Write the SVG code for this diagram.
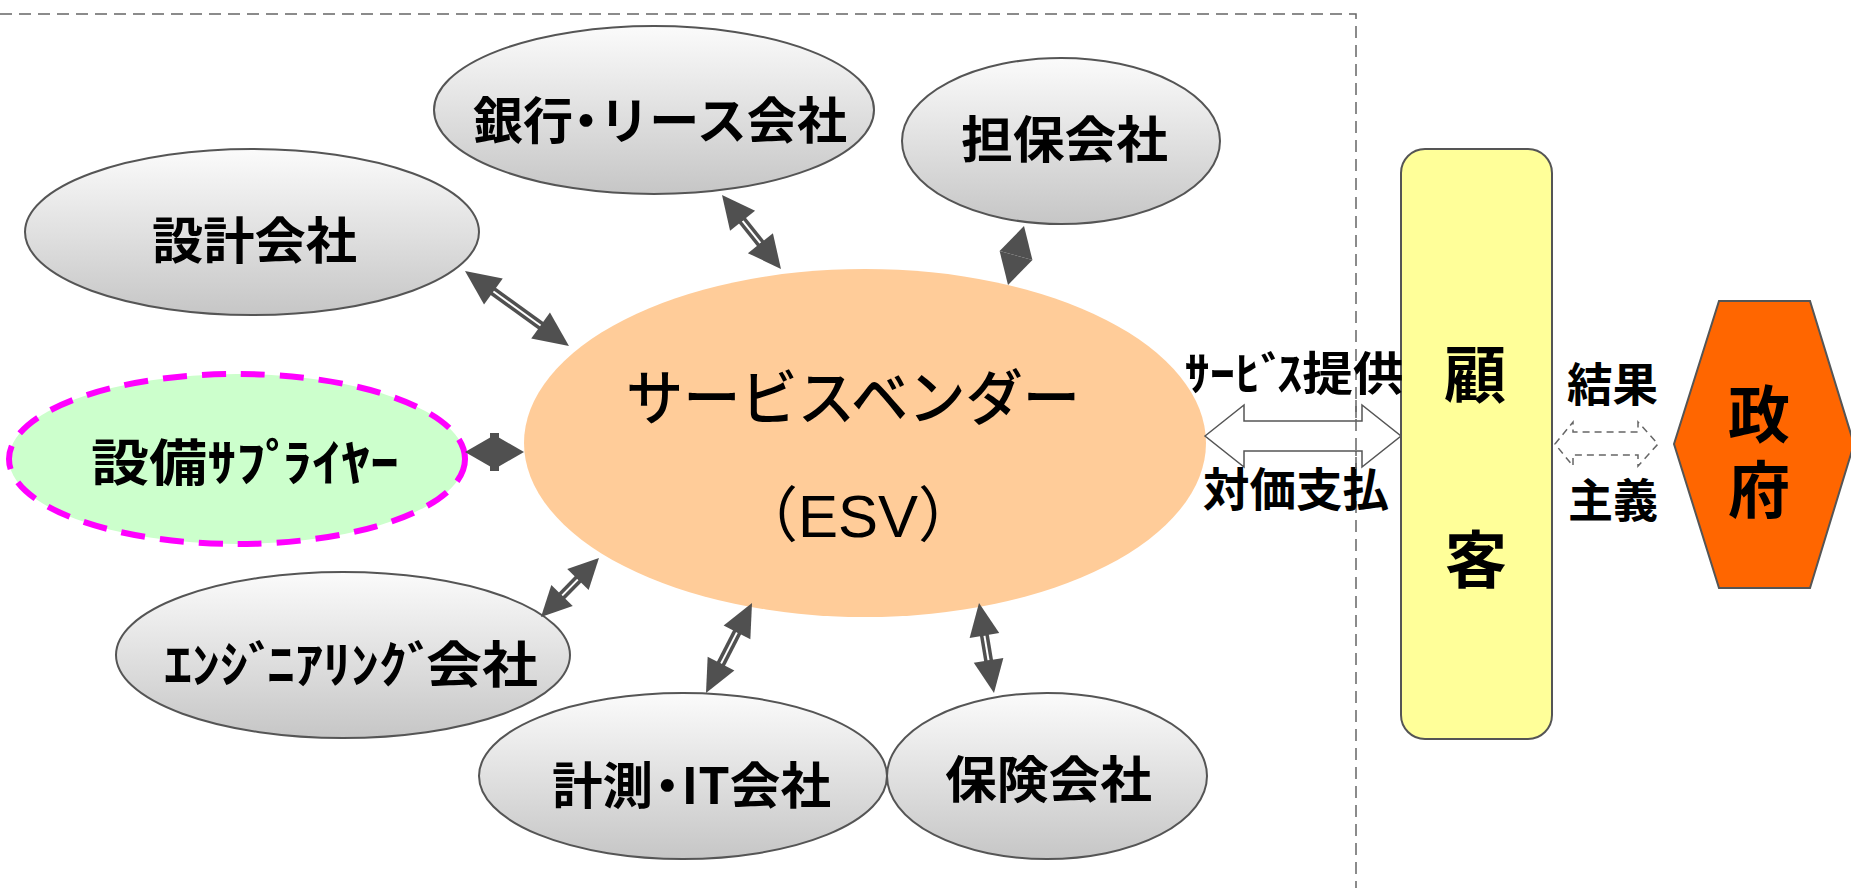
<svg xmlns="http://www.w3.org/2000/svg" width="1851" height="888" viewBox="0 0 1851 888">
<defs>
<linearGradient id="gray" x1="0" y1="0" x2="0" y2="1">
<stop offset="0" stop-color="#FBFBFB"/>
<stop offset="1" stop-color="#C6C6C6"/>
</linearGradient>
<style>
.node { fill: url(#gray); stroke: #555555; stroke-width: 2; }
.lbl { font-family: "Noto Sans CJK JP", sans-serif; font-weight: bold; font-size: 50px; fill: #000; text-anchor: middle; }
.big { font-family: "Noto Sans CJK JP", sans-serif; font-weight: bold; font-size: 62px; fill: #000; text-anchor: middle; }
.side { font-family: "Noto Sans CJK JP", sans-serif; font-weight: bold; font-size: 46px; fill: #000; text-anchor: middle; }
.shaft { stroke: #505050; stroke-width: 9; fill: none; }
.gap { stroke: #FFFFFF; stroke-width: 2; fill: none; }
.head { fill: #505050; }
.frame { fill: none; stroke: #666666; stroke-width: 1.5; stroke-dasharray: 12 7; }
</style>
</defs>
<rect x="0" y="0" width="1851" height="888" fill="#FFFFFF"/>

<g id="frame">
<polyline class="frame" points="0,14 1356,14 1356,888"/>
</g>

<g id="node-bank">
<ellipse class="node" cx="654" cy="110" rx="220" ry="84"/>
<text class="lbl" x="660" y="138.5" dx="0 0 -12 -12" textLength="374" lengthAdjust="spacingAndGlyphs">銀行・リース会社</text>
</g>
<g id="node-collateral">
<ellipse class="node" cx="1061" cy="141" rx="159" ry="83"/>
<text class="lbl" x="1064.5" y="157.5" textLength="207" lengthAdjust="spacingAndGlyphs">担保会社</text>
</g>
<g id="node-design">
<ellipse class="node" cx="252" cy="232" rx="227" ry="83"/>
<text class="lbl" x="254.5" y="258.5" textLength="205" lengthAdjust="spacingAndGlyphs">設計会社</text>
</g>
<g id="node-supplier">
<ellipse cx="237" cy="459" rx="228" ry="85" fill="#CCFFCC" stroke="#FF00FF" stroke-width="6" stroke-dasharray="24 15"/>
<text class="lbl" x="245" y="480.5" dx="0 0 0 0 -6 -4" textLength="308" lengthAdjust="spacingAndGlyphs">設備ｻﾌﾟﾗｲﾔｰ</text>
</g>
<g id="node-engineering">
<ellipse class="node" cx="343" cy="655" rx="227" ry="83"/>
<text class="lbl" x="351" y="682.5" dx="0 0 0 -5 -3 0 0 0 0 -5 -3" textLength="374" lengthAdjust="spacingAndGlyphs">ｴﾝｼﾞﾆｱﾘﾝｸﾞ会社</text>
</g>
<g id="node-measure">
<ellipse class="node" cx="683" cy="776" rx="204" ry="83"/>
<text class="lbl" x="691.5" y="803.5" dx="0 0 -11 -11" textLength="279" lengthAdjust="spacingAndGlyphs">計測・IT会社</text>
</g>
<g id="node-insurance">
<ellipse class="node" cx="1047" cy="776" rx="160" ry="83"/>
<text class="lbl" x="1048.5" y="797.5" textLength="207" lengthAdjust="spacingAndGlyphs">保険会社</text>
</g>
<g id="node-esv">
<ellipse cx="865" cy="443" rx="341" ry="174" fill="#FFCC99"/>
<text x="853" y="420" font-family="Noto Sans CJK JP, sans-serif" font-weight="500" font-size="60" text-anchor="middle" textLength="454" lengthAdjust="spacingAndGlyphs">サービスベンダー</text>
<text x="858" y="537" font-family="Liberation Sans, Noto Sans CJK JP, sans-serif" font-size="60" text-anchor="middle">（ESV）</text>
</g>
<g id="node-customer">
<rect x="1401" y="149" width="151" height="590" rx="24" fill="#FFFF99" stroke="#555555" stroke-width="2"/>
<text class="big" x="1475" y="398">顧</text>
<text class="big" x="1476" y="583">客</text>
</g>
<g id="node-government">
<polygon points="1674,444 1719,301 1810,301 1854,444 1810,588 1719,588" fill="#FF6600" stroke="#555555" stroke-width="2"/>
<text class="big" x="1759" y="438">政</text>
<text class="big" x="1759" y="513">府</text>
</g>

<g id="connectors">
<g transform="translate(465,271) rotate(35.8)">
<line class="shaft" x1="31" y1="0" x2="97.2" y2="0"/>
<line class="gap" x1="33" y1="0" x2="95.2" y2="0"/>
<polygon class="head" points="0,0 35,-16 35,16"/>
<polygon class="head" points="128.2,0 93.2,-16 93.2,16"/>
</g>
<g transform="translate(722,195) rotate(51.43)">
<line class="shaft" x1="31" y1="0" x2="63.6" y2="0"/>
<line class="gap" x1="33" y1="0" x2="61.6" y2="0"/>
<polygon class="head" points="0,0 33,-16 33,16"/>
<polygon class="head" points="94.6,0 61.6,-16 61.6,16"/>
</g>
<g transform="translate(1024,226) rotate(105.17)">
<polygon class="head" points="0,0 30.5,-17 30.5,17"/>
<polygon class="head" points="61.1,0 30.5,-17 30.5,17"/>
</g>
<g transform="translate(465,452)">
<polygon class="head" points="0,0 29.5,-17 29.5,17"/>
<polygon class="head" points="59,0 29.5,-17 29.5,17"/>
<rect class="head" x="25" y="-19" width="9" height="38"/>
</g>
<g transform="translate(541,617) rotate(-45.49)">
<line class="shaft" x1="28" y1="0" x2="54.7" y2="0"/>
<line class="gap" x1="30" y1="0" x2="52.7" y2="0"/>
<polygon class="head" points="0,0 30,-15 30,15"/>
<polygon class="head" points="82.7,0 52.7,-15 52.7,15"/>
</g>
<g transform="translate(706,693) rotate(-62.93)">
<line class="shaft" x1="31" y1="0" x2="70.1" y2="0"/>
<line class="gap" x1="33" y1="0" x2="68.1" y2="0"/>
<polygon class="head" points="0,0 33,-15 33,15"/>
<polygon class="head" points="101.1,0 68.1,-15 68.1,15"/>
</g>
<g transform="translate(979,603) rotate(80.54)">
<line class="shaft" x1="31" y1="0" x2="60.2" y2="0"/>
<line class="gap" x1="33" y1="0" x2="58.2" y2="0"/>
<polygon class="head" points="0,0 33,-15 33,15"/>
<polygon class="head" points="91.2,0 58.2,-15 58.2,15"/>
</g>
<polygon points="1205,436 1244,405 1244,421 1362,421 1362,405 1401,436 1362,467 1362,451 1244,451 1244,467" fill="#FFFFFF" stroke="#555555" stroke-width="1.5"/>
<polygon points="1555,444 1573,422 1573,432 1638,432 1638,422 1658,444 1638,466 1638,455 1573,455 1573,466" fill="#FFFFFF" stroke="#666666" stroke-width="1.5" stroke-dasharray="7 5"/>
</g>

<g id="labels">
<text class="side" x="1294" y="390" dx="0 0 0 -5 -3" textLength="219" lengthAdjust="spacingAndGlyphs">ｻｰﾋﾞｽ提供</text>
<text class="side" x="1296" y="506" textLength="186" lengthAdjust="spacingAndGlyphs">対価支払</text>
<text class="side" x="1612.5" y="401" textLength="91" lengthAdjust="spacingAndGlyphs">結果</text>
<text class="side" x="1613" y="517" textLength="90" lengthAdjust="spacingAndGlyphs">主義</text>
</g>

<g id="frame-overlay">
<line x1="1356" y1="400" x2="1356" y2="470" stroke="#666666" stroke-width="1.5" stroke-dasharray="12 7"/>
</g>
</svg>
